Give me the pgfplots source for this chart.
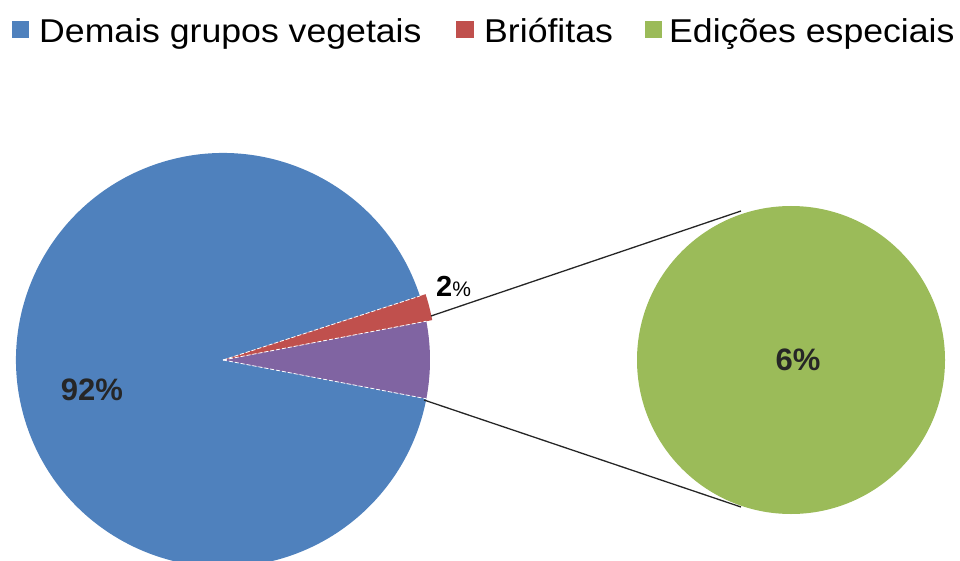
\documentclass[border=0pt]{standalone}
\usepackage{pgfplots}
\pgfplotsset{compat=1.18}
\usepackage{fontspec}
\setmainfont{Liberation Sans}
\definecolor{cBlue}{HTML}{4F81BD}
\definecolor{cRed}{HTML}{C0504D}
\definecolor{cGreen}{HTML}{9BBB59}
\definecolor{cPurple}{HTML}{8064A2}
\begin{document}
\begin{tikzpicture}
\begin{axis}[width=960pt,height=560pt,scale only axis,
  xmin=0,xmax=960,ymin=0,ymax=560,hide axis,clip=true]
% shares in percent
\def\vDemais{92}\def\vBrio{2}\def\vEsp{6}
\pgfmathsetmacro\aE{\vEsp*3.6/2}
\pgfmathsetmacro\aB{\aE+\vBrio*3.6}
\pgfmathsetmacro\aD{\aB+\vDemais*3.6}
\path (axis cs:0,0) rectangle (axis cs:960,560);
% main pie
\fill[cBlue] (axis cs:223,200) -- ++(\aB:207pt) arc[start angle=\aB,end angle=\aD,radius=207pt] -- cycle;
\fill[cPurple] (axis cs:223,200) -- ++(-\aE:207pt) arc[start angle=-\aE,end angle=\aE,radius=207pt] -- cycle;
\fill[cRed] (axis cs:223,200) -- ++(\aE:213pt) arc[start angle=\aE,end angle=\aB,radius=213pt] -- cycle;
\draw[white,line width=0.8pt,dash pattern=on 4pt off 2pt] (axis cs:223,200) -- ++(\aB:207pt);
\draw[white,line width=0.8pt,dash pattern=on 4pt off 2pt] (axis cs:223,200) -- ++(\aE:207pt);
\draw[white,line width=0.8pt,dash pattern=on 4pt off 2pt] (axis cs:223,200) -- ++(-\aE:207pt);
% secondary pie
\fill[cGreen] (axis cs:791,200) circle[radius=154pt];
% connector lines
\addplot[black!85,line width=1.3pt] coordinates {(431,244) (741,349)};
\addplot[black!85,line width=1.3pt] coordinates {(424,160) (741,53)};
% labels
\node[font=\fontsize{31}{36}\selectfont\bfseries,text=black!85] at (axis cs:92,170) {92\%};
\node[font=\fontsize{31}{36}\selectfont\bfseries,text=black!85] at (axis cs:798,200) {6\%};
\node[anchor=base west,inner sep=0pt] at (axis cs:436,263) {\fontsize{29}{32}\selectfont\bfseries 2\fontsize{21}{24}\selectfont\mdseries\%};
% legend
\fill[cBlue] (axis cs:12,522) rectangle (axis cs:29,539);
\fill[cRed] (axis cs:456,522) rectangle (axis cs:474,539);
\fill[cGreen] (axis cs:645,522) rectangle (axis cs:662,539);
\node[anchor=base west,inner sep=0pt,xscale=1.08,font=\fontsize{33}{36}\selectfont] at (axis cs:39,517) {Demais grupos vegetais};
\node[anchor=base west,inner sep=0pt,xscale=1.08,font=\fontsize{33}{36}\selectfont] at (axis cs:484,517) {Briófitas};
\node[anchor=base west,inner sep=0pt,xscale=1.08,font=\fontsize{33}{36}\selectfont] at (axis cs:669,517) {Edições especiais};
\end{axis}
\end{tikzpicture}
\end{document}
